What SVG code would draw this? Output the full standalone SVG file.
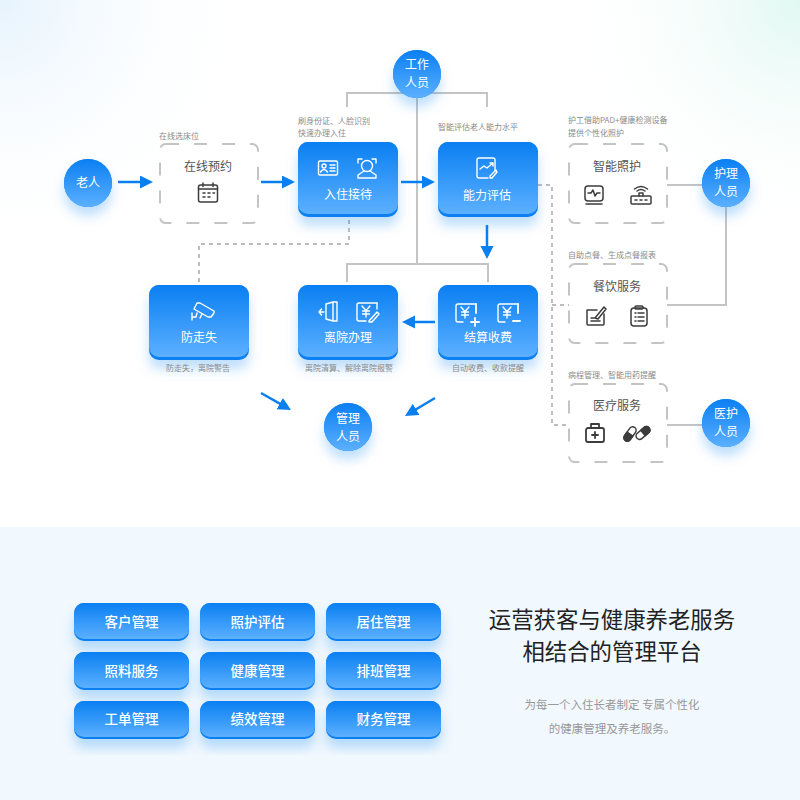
<svg xmlns="http://www.w3.org/2000/svg" xmlns:xlink="http://www.w3.org/1999/xlink" width="800" height="800" viewBox="0 0 800 800">
<style>
text{font-family:"Noto Sans CJK SC","Noto Sans",sans-serif;text-anchor:middle}
.w{fill:#fff;font-size:12px}
.d{fill:#555;font-size:12px}
.s{fill:#8a8a8a;font-size:8px;text-anchor:start}
.c{fill:#8a8a8a;font-size:8px}
.b{fill:#fff;font-size:13.5px;font-weight:500}
.h{fill:#222;font-size:22.4px}
.p{fill:#999;font-size:11.5px}
.ln{fill:none;stroke:#c4c4c4;stroke-width:2}
.dl{fill:none;stroke:#bdbdbd;stroke-width:2;stroke-dasharray:4 4}
.db{fill:#fff;stroke:#c4c4c4;stroke-width:2;stroke-dasharray:13 15}
.ar{fill:none;stroke:#0a7ff0;stroke-width:2.5;marker-end:url(#ah)}
.wi{fill:none;stroke:#fff;stroke-width:1.4;stroke-linecap:round;stroke-linejoin:round}
.ki{fill:none;stroke:#3c3c3c;stroke-width:1.5;stroke-linecap:round;stroke-linejoin:round}
</style>
<defs>
<radialGradient id="tl" gradientUnits="userSpaceOnUse" cx="0" cy="0" r="260"><stop offset="0" stop-color="#e6f3fd"/><stop offset="1" stop-color="#fff" stop-opacity="0"/></radialGradient>
<radialGradient id="tr" gradientUnits="userSpaceOnUse" cx="800" cy="0" r="240"><stop offset="0" stop-color="#e0f8f2"/><stop offset="1" stop-color="#fff" stop-opacity="0"/></radialGradient>
<linearGradient id="g" x1="0" y1="0" x2="0" y2="1"><stop offset="0" stop-color="#0a7ff2"/><stop offset="1" stop-color="#5cb0ff"/></linearGradient>
<filter id="sh" x="-30%" y="-30%" width="160%" height="170%"><feDropShadow dx="0" dy="9" stdDeviation="6" flood-color="#0a7ff0" flood-opacity=".25"/></filter>
<marker id="ah" markerUnits="userSpaceOnUse" markerWidth="14" markerHeight="14" refX="1" refY="6.5" orient="auto"><path d="M0 0L13 6.500L0 13Z" fill="#0a7ff0"/></marker>
<g id="blue"><rect width="100" height="75" rx="10" fill="#0c80f1" filter="url(#sh)"/><rect width="100" height="72" rx="10" fill="url(#g)"/></g>
<g id="btn"><rect width="115" height="38" rx="10" fill="#0c80f1" filter="url(#sh)"/><rect width="115" height="36" rx="10" fill="url(#g)"/></g>
<g id="circ"><circle r="24" fill="#0c80f1" filter="url(#sh)"/><circle r="24" fill="url(#g)"/></g>
<g id="yen"><path d="M10 -9H-8Q-10 -9 -10 -7V7Q-10 9 -8 9H-3"/><path d="M-5 -6L-1 -1.500L3 -6M-1 -1.500V5M-4.500 -1H2.500M-4.500 2H2.500"/></g>
</defs>

<g id="background">
<rect width="800" height="800" fill="#fff"/>
<rect width="800" height="527" fill="url(#tl)"/>
<rect width="800" height="527" fill="url(#tr)"/>
<rect y="527" width="800" height="273" fill="#f1f8fe"/>
</g>

<g id="connectors">
<path class="ln" d="M347 107V93H487V107"/>
<path class="ln" d="M417 96V264"/>
<path class="ln" d="M347 282V264H488V282"/>
<path class="ln" d="M667 185H703"/>
<path class="ln" d="M726 205V305H667"/>
<path class="ln" d="M667 425H703"/>
<path class="dl" d="M349 220V244H199V284"/>
<path class="dl" d="M530 185H552V425H569"/>
<path class="dl" d="M552 305H569"/>
<path class="ar" d="M118 182H141"/>
<path class="ar" d="M261 182H283"/>
<path class="ar" d="M401 182H423"/>
<path class="ar" d="M487 225V247"/>
<path class="ar" d="M435 322H414"/>
<path class="ar" d="M261 393L280.600 404.100"/>
<path class="ar" d="M435 398L415.300 409.800"/>
</g>

<g id="n-elder"><use href="#circ" x="88" y="183"/><text class="w" x="88" y="187">老人</text></g>
<g id="n-staff"><use href="#circ" x="417" y="74"/><text class="w" x="417" y="69">工作</text><text class="w" x="417" y="87">人员</text></g>
<g id="n-nurse"><use href="#circ" x="726" y="183"/><text class="w" x="726" y="178">护理</text><text class="w" x="726" y="196">人员</text></g>
<g id="n-medic"><use href="#circ" x="726" y="423"/><text class="w" x="726" y="418">医护</text><text class="w" x="726" y="436">人员</text></g>
<g id="n-manager"><use href="#circ" x="348" y="427"/><text class="w" x="348" y="423">管理</text><text class="w" x="348" y="441">人员</text></g>

<g id="n-booking">
<text class="s" x="159" y="139">在线选床位</text>
<rect class="db" x="160" y="144" width="98" height="79" rx="6"/>
<text class="d" x="208" y="171">在线预约</text>
<g class="ki" transform="translate(208 193)"><rect x="-9.500" y="-8" width="19" height="17" rx="2"/><path d="M-9.500 -4H9.500M-5 -10V-6.500M5 -10V-6.500M-5 0H-3M0 0H2M5 0H6.500M-5 4H-3M0 4H2"/></g>
</g>

<g id="n-checkin">
<text class="s" x="298" y="124">刷身份证、人脸识别</text>
<text class="s" x="298" y="136">快速办理入住</text>
<use href="#blue" x="298" y="142"/>
<g class="wi" transform="translate(328 168)"><rect x="-9.500" y="-7" width="19" height="14" rx="1.500"/><circle cx="-4" cy="-2" r="2"/><path d="M-7.500 4Q-4 -1 -.5 4M2 -3H7M2 0H7M2 3H7"/></g>
<g class="wi" transform="translate(367 168)"><path d="M-9 -5V-9H-5M5 -9H9V-5"/><circle cx="0" cy="-2" r="5.500"/><path d="M-3 3L-9 7V10H9V7L3 3"/></g>
<text class="w" x="348" y="199">入住接待</text>
</g>

<g id="n-assess">
<text class="s" x="438" y="130">智能评估老人能力水平</text>
<use href="#blue" x="438" y="142"/>
<g class="wi" transform="translate(487 168)"><path d="M8 3V-8Q8 -10 6 -10H-8Q-10 -10 -10 -8V8Q-10 10 -8 10H1"/><path d="M-7 1L-3 -2L0 0L6 -5M3 -5H6V-2"/><path d="M5 10L10 4L9 2L3 8L3 10Z"/></g>
<text class="w" x="487" y="200">能力评估</text>
</g>

<g id="n-care">
<text class="s" x="568" y="123">护工借助PAD+健康检测设备</text>
<text class="s" x="568" y="136">提供个性化照护</text>
<rect class="db" x="569" y="144" width="98" height="79" rx="6"/>
<text class="d" x="617" y="171">智能照护</text>
<g class="ki" transform="translate(594 195)"><rect x="-9" y="-9" width="18" height="15" rx="3"/><path d="M-6 -2H-3L-1 -5L1 1L3 -2H6M-8 9H8"/></g>
<g class="ki" transform="translate(641 195)"><rect x="-10" y="1" width="20" height="8" rx="1"/><path d="M-6 5H-4M-1 5H1M4 5H6M-2 1V-2H2V1M-4 -4Q0 -7 4 -4M-6.500 -6Q0 -11 6.500 -6"/></g>
</g>

<g id="n-food">
<text class="s" x="568" y="258">自助点餐、生成点餐报表</text>
<rect class="db" x="569" y="264" width="98" height="79" rx="6"/>
<text class="d" x="617" y="291">餐饮服务</text>
<g class="ki" transform="translate(596 316)"><path d="M-9 -6H1M-9 -6V8Q-9 9 -8 9H7Q8 9 8 8V-2"/><path d="M-1 2L8 -9L10 -7L2 3ZM-5 2H-2M-5 5H4"/></g>
<g class="ki" transform="translate(639 316)"><rect x="-8" y="-8" width="16" height="18" rx="3"/><rect x="-4" y="-10" width="8" height="3" rx="1"/><path d="M-4 -3H-3M-1 -3H5M-4 1H-3M-1 1H5M-4 5H-3M-1 5H5"/></g>
</g>

<g id="n-medical">
<text class="s" x="568" y="378">病程管理、智能用药提醒</text>
<rect class="db" x="569" y="384" width="98" height="78" rx="6"/>
<text class="d" x="617" y="410">医疗服务</text>
<g class="ki" transform="translate(595 433)"><rect x="-9" y="-5" width="18" height="14" rx="2" stroke-width="1.800"/><path d="M-4 -5V-9H4V-5M0 -1V5M-3 2H3" stroke-width="1.800"/></g>
<g class="ki" transform="translate(630 434) rotate(-55)"><rect x="-8" y="-3.500" width="16" height="7" rx="3.500"/><path d="M-8 0A3.500 3.500 0 0 1 -4.500 -3.500H0V3.500H-4.500A3.500 3.500 0 0 1 -8 0Z" fill="#3c3c3c"/></g>
<g class="ki" transform="translate(643 433) rotate(-40)"><rect x="-8" y="-3.500" width="16" height="7" rx="3.500"/><path d="M8 0A3.500 3.500 0 0 1 4.500 3.500H0V-3.500H4.500A3.500 3.500 0 0 1 8 0Z" fill="#3c3c3c"/></g>
</g>

<g id="n-wander">
<use href="#blue" x="149" y="285"/>
<g class="wi" transform="translate(202 312)"><path d="M-5 -9L-2 -9L12 -1L12 1L9 5L6 5L-8 -3Z"/><path d="M-5 1L-6 5L-10 5M-10 1V8M0 2L-2 6"/></g>
<text class="w" x="199" y="342">防走失</text>
</g>

<g id="n-discharge">
<use href="#blue" x="298" y="285"/>
<g class="wi" transform="translate(329 312)"><path d="M-3 -8L4 -10H8V9H4L-3 7ZM4 -10V9M-5 0H-10M-7.500 -3L-10 0L-7.500 3"/></g>
<g class="wi" transform="translate(367 312)"><use href="#yen"/><path d="M-3 9H-1M10 -9V-3M2 9L10 0L12 2L5 10L2 10Z"/></g>
<text class="w" x="348" y="342">离院办理</text>
</g>

<g id="n-settle">
<use href="#blue" x="438" y="285"/>
<g class="wi" transform="translate(466 313)"><use href="#yen"/><path d="M10 -9V0M5 9H13M9 5V13" stroke-width="1.800"/></g>
<g class="wi" transform="translate(508 313)"><use href="#yen"/><path d="M10 -9V0M5 8H12" stroke-width="1.800"/></g>
<text class="w" x="488" y="342">结算收费</text>
</g>

<g id="captions">
<text class="c" x="198" y="371">防走失，离院警告</text>
<text class="c" x="349" y="371">离院清算、解除离院报警</text>
<text class="c" x="488" y="371">自动收费、收款提醒</text>
</g>

<g id="b1"><use href="#btn" x="74" y="603"/><text class="b" x="131.500" y="627">客户管理</text></g>
<g id="b2"><use href="#btn" x="200" y="603"/><text class="b" x="257.500" y="627">照护评估</text></g>
<g id="b3"><use href="#btn" x="326" y="603"/><text class="b" x="383.500" y="627">居住管理</text></g>
<g id="b4"><use href="#btn" x="74" y="652"/><text class="b" x="131.500" y="675.500">照料服务</text></g>
<g id="b5"><use href="#btn" x="200" y="652"/><text class="b" x="257.500" y="675.500">健康管理</text></g>
<g id="b6"><use href="#btn" x="326" y="652"/><text class="b" x="383.500" y="675.500">排班管理</text></g>
<g id="b7"><use href="#btn" x="74" y="701"/><text class="b" x="131.500" y="724">工单管理</text></g>
<g id="b8"><use href="#btn" x="200" y="701"/><text class="b" x="257.500" y="724">绩效管理</text></g>
<g id="b9"><use href="#btn" x="326" y="701"/><text class="b" x="383.500" y="724">财务管理</text></g>

<g id="intro">
<text class="h" x="612" y="628">运营获客与健康养老服务</text>
<text class="h" x="612" y="660">相结合的管理平台</text>
<text class="p" x="612" y="709">为每一个入住长者制定 专属个性化</text>
<text class="p" x="612" y="733">的健康管理及养老服务。</text>
</g>
</svg>
